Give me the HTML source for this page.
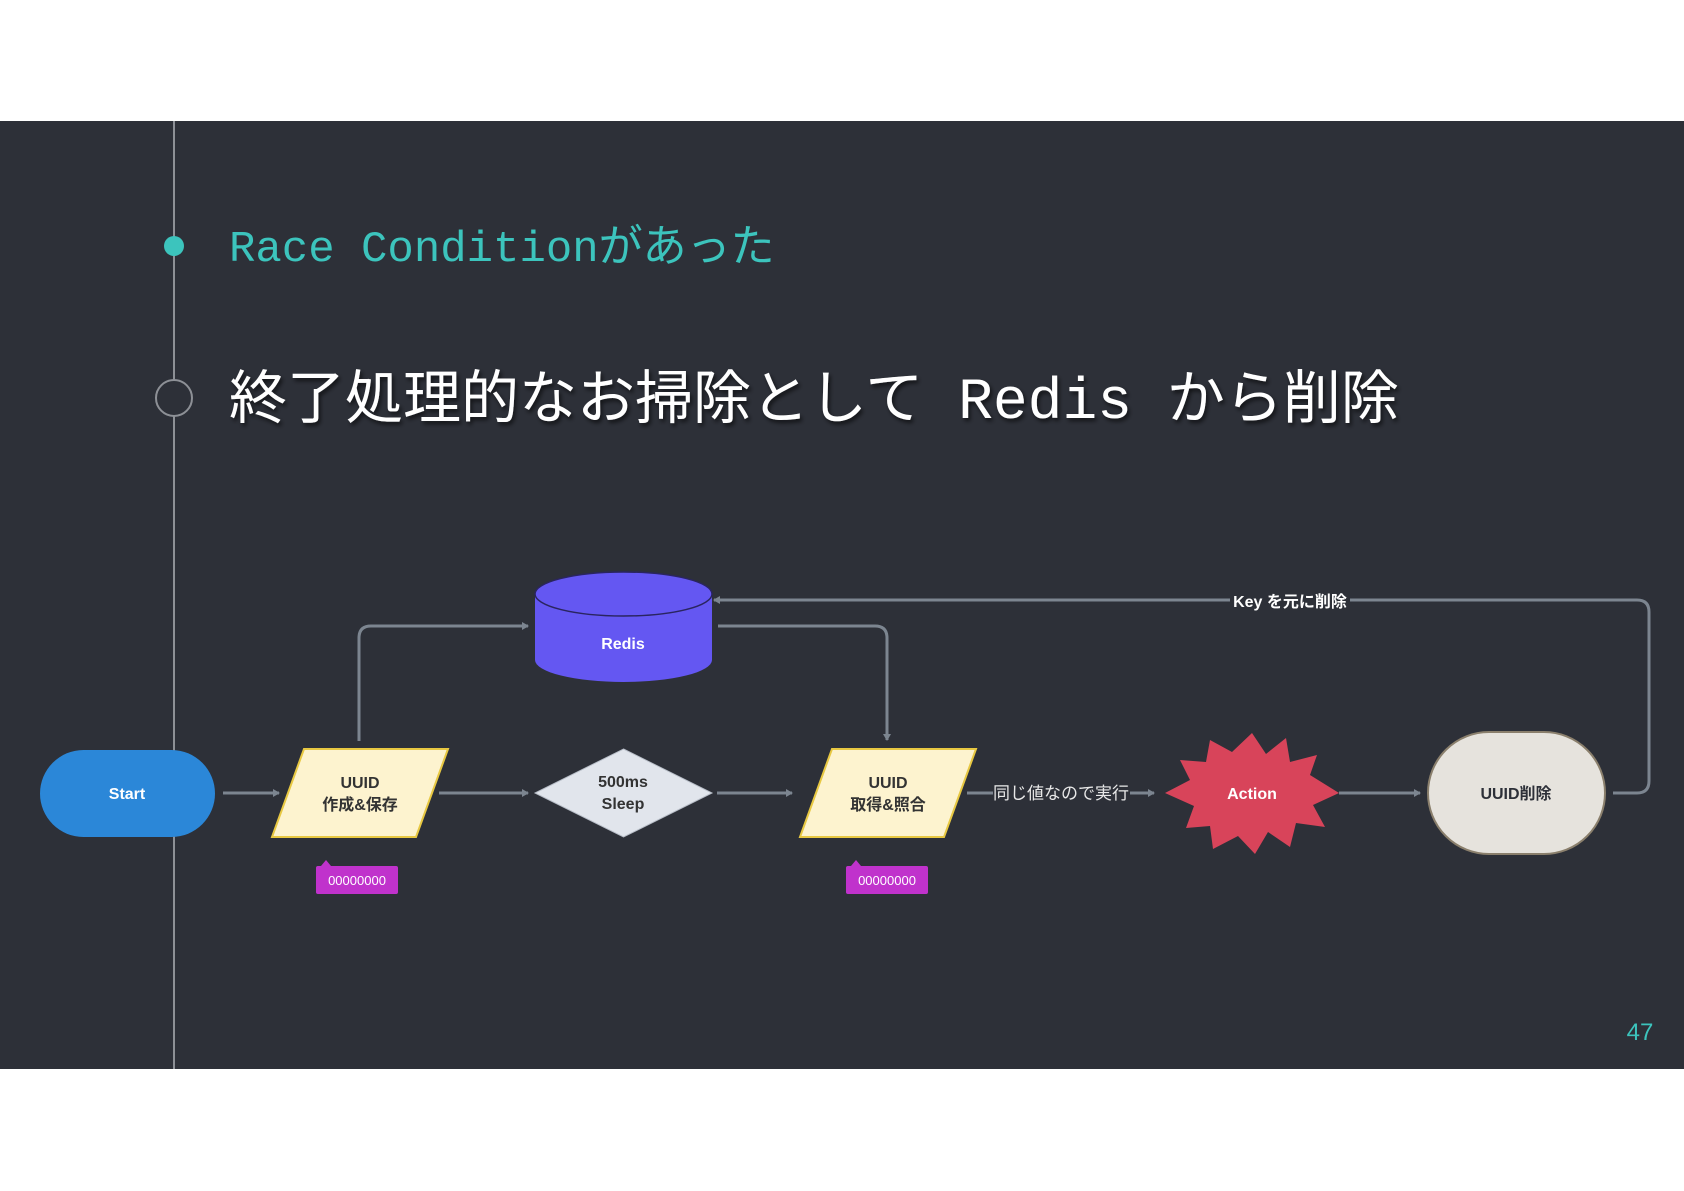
<!DOCTYPE html>
<html><head><meta charset="utf-8"><style>
html,body{margin:0;padding:0;background:#fff;}
body{width:1684px;height:1191px;position:relative;overflow:hidden;}
svg{position:absolute;left:0;top:0;}
</style></head><body>
<svg width="1684" height="1191" viewBox="0 0 1684 1191" xmlns="http://www.w3.org/2000/svg">
<defs>
<marker id="ar" markerWidth="8" markerHeight="8" refX="6" refY="4" orient="auto" markerUnits="userSpaceOnUse">
<path d="M0,0 L7,4 L0,8 Z" fill="#7c8590"/>
</marker>
<filter id="sh"><feDropShadow dx="2" dy="3" stdDeviation="2" flood-color="#000" flood-opacity="0.6"/></filter>
</defs>
<rect x="0" y="121" width="1684" height="948" fill="#2d3038"/>
<line x1="174" y1="121" x2="174" y2="1069" stroke="#8d9096" stroke-width="2"/>
<circle cx="174" cy="246" r="10" fill="#3cc4bd"/>
<circle cx="174" cy="398" r="18" fill="#2d3038" stroke="#8d9096" stroke-width="2"/>
<text x="229" y="261" font-family="Liberation Mono, Noto Sans CJK JP, monospace" font-size="44" fill="#3cc4bd">Race Conditionがあった</text>
<text x="229" y="418" font-family="Liberation Mono, Noto Sans CJK JP, monospace" font-size="58" fill="#ffffff" filter="url(#sh)">終了処理的なお掃除として Redis から削除</text>

<g fill="none" stroke="#7c8590" stroke-width="3">
<line x1="223" y1="793" x2="279" y2="793" marker-end="url(#ar)"/>
<line x1="439" y1="793" x2="528" y2="793" marker-end="url(#ar)"/>
<line x1="717" y1="793" x2="792" y2="793" marker-end="url(#ar)"/>
<line x1="967" y1="793" x2="993" y2="793"/>
<line x1="1130" y1="793" x2="1154" y2="793" marker-end="url(#ar)"/>
<line x1="1339" y1="793" x2="1420" y2="793" marker-end="url(#ar)"/>
<path d="M359,741 L359,638 Q359,626 371,626 L528,626" marker-end="url(#ar)"/>
<path d="M718,626 L875,626 Q887,626 887,638 L887,740" marker-end="url(#ar)"/>
<path d="M1613,793 L1637,793 Q1649,793 1649,781 L1649,612 Q1649,600 1637,600 L1350,600"/>
<path d="M1230,600 L714,600" marker-end="url(#ar)"/>
</g>
<text x="1290" y="607" text-anchor="middle" font-family="Liberation Sans, Noto Sans CJK JP, sans-serif" font-size="16" font-weight="bold" fill="#fff">Key を元に削除</text>
<text x="1061" y="799" text-anchor="middle" font-family="Liberation Sans, Noto Sans CJK JP, sans-serif" font-size="17" fill="#e8e8e8">同じ値なので実行</text>

<!-- Redis -->
<path d="M535,594 L535,660 A88.5,22 0 0 0 712,660 L712,594" fill="#6457f2"/>
<ellipse cx="623.5" cy="594" rx="88.5" ry="22" fill="#6457f2" stroke="#2a2560" stroke-width="1.5"/>
<text x="623" y="649" text-anchor="middle" font-family="Liberation Sans, sans-serif" font-size="16" font-weight="bold" fill="#fff">Redis</text>

<!-- Start -->
<rect x="40" y="750" width="175" height="87" rx="43.5" fill="#2b87d8"/>
<text x="127" y="799" text-anchor="middle" font-family="Liberation Sans, sans-serif" font-size="16" font-weight="bold" fill="#fff">Start</text>

<!-- parallelogram 1 -->
<polygon points="304,749 448,749 416,837 272,837" fill="#fdf3cf" stroke="#e8c842" stroke-width="2"/>
<text x="360" y="788" text-anchor="middle" font-family="Liberation Sans, Noto Sans CJK JP, sans-serif" font-size="16" font-weight="bold" fill="#333">UUID</text>
<text x="360" y="810" text-anchor="middle" font-family="Liberation Sans, Noto Sans CJK JP, sans-serif" font-size="16" font-weight="bold" fill="#333">作成&amp;保存</text>
<rect x="316" y="866" width="82" height="28" rx="2" fill="#c032cc"/>
<polygon points="321,866 326,860 331,866" fill="#c032cc"/>
<text x="357" y="885" text-anchor="middle" font-family="Liberation Sans, sans-serif" font-size="13" fill="#fff">00000000</text>

<!-- diamond -->
<polygon points="623.5,749 712,793 623.5,837 535,793" fill="#e1e5ec" stroke="#b8bec8" stroke-width="1"/>
<text x="623" y="787" text-anchor="middle" font-family="Liberation Sans, sans-serif" font-size="16" font-weight="bold" fill="#333">500ms</text>
<text x="623" y="809" text-anchor="middle" font-family="Liberation Sans, sans-serif" font-size="16" font-weight="bold" fill="#333">Sleep</text>

<!-- parallelogram 2 -->
<polygon points="832,749 976,749 944,837 800,837" fill="#fdf3cf" stroke="#e8c842" stroke-width="2"/>
<text x="888" y="788" text-anchor="middle" font-family="Liberation Sans, Noto Sans CJK JP, sans-serif" font-size="16" font-weight="bold" fill="#333">UUID</text>
<text x="888" y="810" text-anchor="middle" font-family="Liberation Sans, Noto Sans CJK JP, sans-serif" font-size="16" font-weight="bold" fill="#333">取得&amp;照合</text>
<rect x="846" y="866" width="82" height="28" rx="2" fill="#c032cc"/>
<polygon points="851,866 856,860 861,866" fill="#c032cc"/>
<text x="887" y="885" text-anchor="middle" font-family="Liberation Sans, sans-serif" font-size="13" fill="#fff">00000000</text>

<!-- Action starburst -->
<polygon points="1252,733 1266,754 1286,738 1290,762 1317,755 1310,775 1339,793 1313,805 1325,827 1296,823 1290,847 1268,832 1255,854 1238,836 1213,849 1210,826 1186,828 1194,806 1165,793 1190,780 1180,760 1206,762 1210,740 1232,752" fill="#d8445a"/>
<text x="1252" y="799" text-anchor="middle" font-family="Liberation Sans, sans-serif" font-size="16" font-weight="bold" fill="#fff">Action</text>

<!-- UUID削除 -->
<rect x="1428" y="732" width="177" height="122" rx="61" fill="#e6e3dd" stroke="#8a7f6c" stroke-width="2"/>
<text x="1516" y="799" text-anchor="middle" font-family="Liberation Sans, Noto Sans CJK JP, sans-serif" font-size="16" font-weight="bold" fill="#2d3038">UUID削除</text>

<text x="1640" y="1040" text-anchor="middle" font-family="Liberation Sans, sans-serif" font-size="24" fill="#3cc4bd">47</text>
</svg>
</body></html>
